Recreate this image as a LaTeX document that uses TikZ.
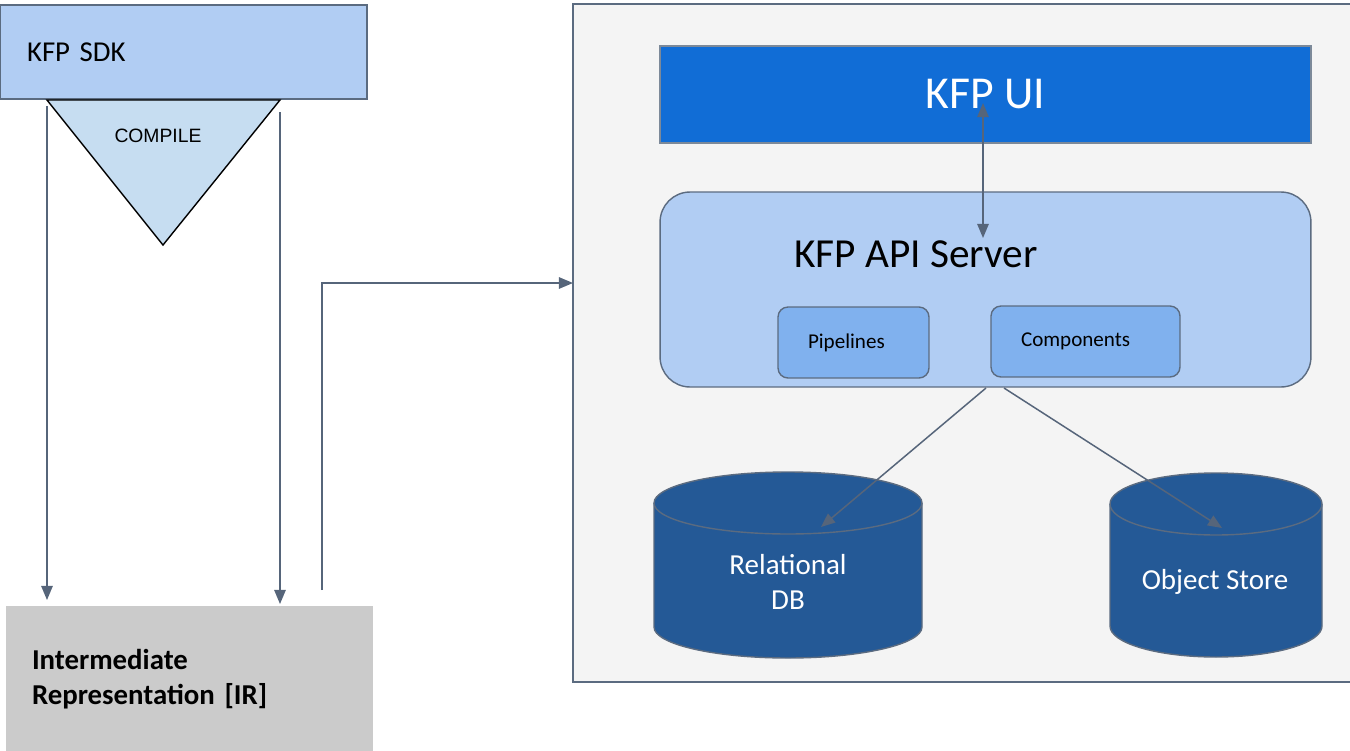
\documentclass[tikz,border=0pt]{standalone}
\usepackage{fontspec}
\setmainfont{Carlito}
\newfontfamily\arialfont{Liberation Sans}
\usetikzlibrary{arrows.meta}
\definecolor{sdkblue}{HTML}{B1CDF3}
\definecolor{compileblue}{HTML}{C6DDF1}
\definecolor{irgray}{HTML}{CBCBCB}
\definecolor{platgray}{HTML}{F4F4F4}
\definecolor{uiblue}{HTML}{116DD6}
\definecolor{subblue}{HTML}{80B1EE}
\definecolor{dbblue}{HTML}{245996}
\definecolor{linegray}{HTML}{56657A}
\definecolor{bordergray}{HTML}{5B6B80}
\tikzset{
  box/.style={rectangle,draw=bordergray,line width=0.8pt,inner sep=0pt},
  sdkbox/.style={box,fill=sdkblue,font=\fontsize{16.4pt}{19.8pt}\selectfont},
  irbox/.style={rectangle,fill=irgray,inner sep=0pt,
    font=\bfseries\fontsize{16.4pt}{19.8pt}\selectfont},
  platform/.style={box,fill=platgray,line width=1pt},
  uibox/.style={box,draw=bordergray!80,fill=uiblue,text=white,
    font=\fontsize{26pt}{30pt}\selectfont},
  apibox/.style={box,fill=sdkblue,rounded corners=0.6cm},
  subbox/.style={box,fill=subblue,rounded corners=0.2cm,
    font=\fontsize{12pt}{14pt}\selectfont},
  dbshape/.style={fill=dbblue,draw=bordergray,line width=0.8pt},
  dblabel/.style={text=white,align=center,font=\fontsize{16.5pt}{20pt}\selectfont},
  compileshape/.style={fill=compileblue,draw=black,line width=0.8pt},
  flow/.style={draw=linegray,line width=0.85pt,-{Triangle[length=8pt,width=6.5pt]}},
  twoway/.style={draw=linegray,line width=0.85pt,
    {Triangle[length=8pt,width=6.5pt]}-{Triangle[length=8pt,width=6.5pt]}}
}

\begin{document}
\begin{tikzpicture}[x=0.02cm,y=-0.02cm]
  \useasboundingbox (0,0) rectangle (1350,751);
  \clip (0,0) rectangle (1350,751);
  % left side: sdk, compile step, IR
  \node[sdkbox,minimum width=7.34cm,minimum height=1.88cm,
    text width=6.26cm,align=left] (sdk) at (183.5,52) {KFP SDK};
  \coordinate (cl) at (47,100);
  \coordinate (cr) at (280,100);
  \coordinate (cb) at (163,245);
  \draw[compileshape] (cl)--(cr)--(cb)--cycle;
  \node[font=\arialfont\fontsize{11pt}{13pt}\selectfont] (compile) at (158,136) {COMPILE};
  \node[irbox,minimum width=7.34cm,minimum height=2.94cm,
    text width=6.3cm,align=left] (ir) at (189.5,679)
    {Intermediate\\Representation [IR]};
  \coordinate (sdkl) at (47,106);
  \coordinate (sdkr) at (280,112);
  \coordinate (irl) at (47,600);
  \coordinate (irr) at (280,604);
  \draw[flow] (sdkl)--(irl);
  \draw[flow] (sdkr)--(irr);
  % right side: the kfp platform
  \node[platform,minimum width=15.74cm,minimum height=13.56cm] (plat) at (966.5,343) {};
  \coordinate (irout) at (322,590);
  \coordinate (platin) at (573,283);
  \draw[flow] (irout) |- (platin);
  \node[uibox,minimum width=13.02cm,minimum height=1.94cm] (ui) at (985.5,94.5) {KFP UI};
  \node[apibox,minimum width=13.02cm,minimum height=3.9cm] (api) at (985.5,289.5) {};
  \node[font=\fontsize{23.5pt}{28pt}\selectfont] (apititle) at (916,254) {KFP API Server};
  \node[subbox,minimum width=3.02cm,minimum height=1.42cm,
    text width=1.82cm,align=left] (pipes) at (853.5,342.5) {Pipelines};
  \node[subbox,minimum width=3.78cm,minimum height=1.42cm,
    text width=2.58cm,align=left] (comps) at (1085.5,341.5) {Components};
  \coordinate (uiend) at (983,103);
  \coordinate (apiend) at (983,238);
  \draw[twoway] (uiend)--(apiend);
  % storage
  \draw[dbshape] (654,503) -- (654,627) arc (180:0:134 and 31)
    -- (922,503) arc (0:-180:134 and 31) -- cycle;
  \draw[draw=bordergray,line width=0.8pt] (654,503) arc (180:0:134 and 31);
  \node[dblabel] (reldb) at (788,582) {Relational\\DB};
  \draw[dbshape] (1110,504) -- (1110,626) arc (180:0:106 and 31)
    -- (1322,504) arc (0:-180:106 and 31) -- cycle;
  \draw[draw=bordergray,line width=0.8pt] (1110,504) arc (180:0:106 and 31);
  \node[dblabel] (objstore) at (1215,582) {Object Store};
  \coordinate (apiout1) at (986,388);
  \coordinate (apiout2) at (1004,388);
  \coordinate (reltip) at (821,527);
  \coordinate (objtip) at (1222,528);
  \draw[flow] (apiout1)--(reltip);
  \draw[flow] (apiout2)--(objtip);
\end{tikzpicture}
\end{document}
